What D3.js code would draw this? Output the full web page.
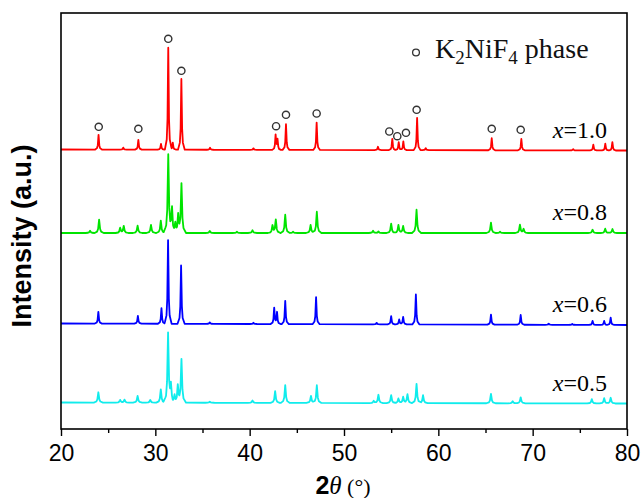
<!DOCTYPE html>
<html>
<head>
<meta charset="utf-8">
<script src="https://cdn.jsdelivr.net/npm/d3@7"></script>
<style>
	body { margin: 0; background: #fff; }
	svg { display: block; }
</style>
</head>
<body>
<svg id="chart" width="643" height="498"></svg>
<script>
// Peak lists: [2theta, height above the pattern's baseline]
const redPeaks = [[23.98, 14.7], [26.6, 2], [28.2, 9.7], [30.6, 5.7], [31.37, 102], [31.85, 7], [32.76, 70.7],
	[35.8, 2], [40.4, 1.5], [42.75, 14.7], [42.95, 10], [43.85, 25.7], [47.1, 27.3], [53.6, 3.3], [55.12, 11.3],
	[55.8, 8], [56.29, 8.7], [57.75, 32.3], [58.66, 2], [65.66, 12], [68.8, 11.3], [74.3, 1.3], [76.43, 5.7],
	[77.7, 6.7], [78.45, 8.3]];
const greenPeaks = [[23.08, 2.3], [24.04, 13.3], [26.27, 5], [26.65, 7], [28.12, 7.3], [29.54, 8], [30.58, 12.3],
	[31.37, 78], [31.77, 24], [32.12, 9], [32.42, 17], [32.77, 49], [35.77, 2], [38.65, 1.3], [40.3, 2.7],
	[42.42, 7.3], [42.77, 13.3], [43.77, 18.3], [44.6, 1.3], [46.46, 8], [47.12, 21.3], [53.08, 2.3], [53.65, 1.5],
	[55.0, 9.3], [55.77, 8], [56.27, 7], [57.69, 23.3], [65.58, 10.3], [66.54, 1.3], [68.65, 8.3], [69.04, 4],
	[76.35, 3.3], [77.69, 4.3], [78.46, 4]];
const bluePeaks = [[23.96, 11.7], [28.15, 7.7], [30.65, 15.7], [31.35, 83.7], [32.73, 58.3], [35.77, 1.5],
	[40.4, 1.2], [42.6, 16], [42.9, 11.7], [43.77, 23.3], [47.04, 27], [53.46, 1.5], [55.0, 8.3], [55.85, 5],
	[56.27, 7.5], [57.62, 30], [65.58, 10], [68.73, 9.7], [71.7, 1], [74.2, 1], [76.35, 4], [77.58, 4], [78.27, 7.3]];
const cyanPeaks = [[23.96, 10.3], [26.27, 2.7], [26.73, 3], [28.12, 6.7], [29.46, 2.7], [30.58, 13.3], [31.35, 69.3],
	[31.65, 16], [32.04, 7], [32.38, 16.7], [32.77, 43.3], [35.77, 1], [40.3, 2.3], [42.7, 11.7], [43.77, 17.7],
	[46.5, 7], [47.12, 17.7], [53.15, 2.3], [53.65, 8.3], [55.0, 8], [55.77, 4.7], [56.27, 6.3], [56.73, 9],
	[57.69, 19.3], [58.38, 8], [65.58, 9.3], [67.88, 2], [68.73, 6], [76.27, 4.3], [77.58, 5.3], [78.27, 5.7]];

// Baseline level of each pattern at 20 and 80 degrees
const redBase = [279.5, 278.5];
const greenBase = [196, 196];
const blueBase = [105.5, 104];
const cyanBase = [26.5, 25.5];

// K2NiF4 markers over the x=1.0 pattern: [2theta, height above its baseline]
const markers = [[24.0, 22.7], [28.2, 20.7], [31.37, 110.7], [32.76, 78.7], [42.8, 23.3], [43.85, 34.7],
	[47.1, 36], [54.8, 18], [55.65, 13.3], [56.57, 16.7], [57.7, 39.7], [65.66, 20.7], [68.73, 19.7]];

const seriesLabels = ["1.0", "0.8", "0.6", "0.5"];
const majorTicks = [20, 30, 40, 50, 60, 70, 80];
const minorTicks = [25, 35, 45, 55, 65, 75];

// Layout
const margin = { left: 61, top: 13, right: 16, bottom: 69 };
const width = 643 - margin.left - margin.right;
const height = 498 - margin.top - margin.bottom;

const series = [
	{ peaks: redPeaks, base: redBase, color: "#ff0000", spread: 1 },
	{ peaks: greenPeaks, base: greenBase, color: "#00e400", spread: 1.35 },
	{ peaks: bluePeaks, base: blueBase, color: "#0000ff", spread: 1.05 },
	{ peaks: cyanPeaks, base: cyanBase, color: "#10ecec", spread: 1.35 }
];

// Shape of one peak, offsets in degrees and fraction of its height
const peakShape = [[-0.36, 0], [-0.16, 0.1], [-0.08, 0.3], [-0.035, 0.7], [0, 1],
	[0.035, 0.7], [0.08, 0.3], [0.16, 0.1], [0.36, 0]];

function shapeAt(dx) {
	if (dx <= peakShape[0][0] || dx >= peakShape[peakShape.length - 1][0]) return 0;
	for (let i = 1; i < peakShape.length; i++) {
		const a = peakShape[i - 1], b = peakShape[i];
		if (dx <= b[0]) return a[1] + (b[1] - a[1]) * (dx - a[0]) / (b[0] - a[0]);
	}
	return 0;
}

// Vertices of a pattern: its peaks put on its baseline
function pattern(s) {
	let xs = [20, 80];
	s.peaks.forEach(p => peakShape.forEach(k => xs.push(p[0] + k[0] * s.spread)));
	xs = xs.filter(v => v >= 20 && v <= 80).sort((a, b) => a - b);
	return xs.map(v => {
		let level = s.base[0] + (s.base[1] - s.base[0]) * (v - 20) / 60;
		s.peaks.forEach(p => { level += p[1] * shapeAt((v - p[0]) / s.spread); });
		return [v, level];
	});
}

const svg = d3.select("#chart");
const g = svg.append("g")
	.attr("transform", "translate(" + margin.left + "," + margin.top + ")");

const x = d3.scaleLinear().domain([20, 80]).range([0, width]);
const y = d3.scaleLinear().domain([0, height]).range([height, 0]);

// Patterns
const line = d3.line().x(d => x(d[0])).y(d => y(d[1]));
series.forEach(s => {
	g.append("path")
		.datum(pattern(s))
		.attr("fill", "none")
		.attr("stroke", s.color)
		.attr("stroke-width", 1.8)
		.attr("stroke-linejoin", "round")
		.attr("d", line);
});

// Phase markers
g.selectAll("circle.marker")
	.data(markers)
	.join("circle")
		.attr("class", "marker")
		.attr("cx", d => x(d[0]))
		.attr("cy", d => y(redBase[0] + d[1]))
		.attr("r", 3.6)
		.attr("fill", "#fff")
		.attr("stroke", "#333")
		.attr("stroke-width", 1.4);

// Series labels
g.selectAll("text.slabel")
	.data(seriesLabels)
	.join("text")
		.attr("class", "slabel")
		.attr("x", 546)
		.attr("y", (d, i) => y(series[i].base[1]) - 13)
		.attr("text-anchor", "end")
		.style("font-family", "'Liberation Serif', 'Times New Roman', serif")
		.style("font-size", "24px")
		.each(function(d) {
			const t = d3.select(this);
			t.append("tspan").style("font-style", "italic").text("x");
			t.append("tspan").text("=" + d);
		});

// Legend
g.append("circle")
	.attr("cx", 416 - margin.left)
	.attr("cy", 52.5 - margin.top)
	.attr("r", 3.4)
	.attr("fill", "#fff")
	.attr("stroke", "#333")
	.attr("stroke-width", 1.3);

const legend = g.append("text")
	.attr("x", 435 - margin.left)
	.attr("y", 58 - margin.top)
	.style("font-family", "'Liberation Serif', 'Times New Roman', serif")
	.style("font-size", "28px")
	.style("fill", "#111");
legend.append("tspan").text("K");
legend.append("tspan").attr("dy", 6).style("font-size", "19px").text("2");
legend.append("tspan").attr("dy", -6).text("NiF");
legend.append("tspan").attr("dy", 6).style("font-size", "19px").text("4");
legend.append("tspan").attr("dy", -6).text(" phase");

// Frame
g.append("rect")
	.attr("width", width)
	.attr("height", height)
	.attr("fill", "none")
	.attr("stroke", "#000")
	.attr("stroke-width", 1.6);

// x-axis
const xAxis = g.append("g")
	.attr("transform", "translate(0," + height + ")")
	.call(d3.axisBottom(x).tickValues(majorTicks).tickSize(7).tickPadding(9).tickFormat(d3.format("d")));
xAxis.select(".domain").remove();
xAxis.selectAll("line").attr("stroke", "#000").attr("stroke-width", 1.4);
xAxis.selectAll("text")
	.style("font-family", "'Liberation Sans', Arial, sans-serif")
	.style("font-size", "23px")
	.style("fill", "#000");

const xMinor = g.append("g")
	.attr("transform", "translate(0," + height + ")")
	.call(d3.axisBottom(x).tickValues(minorTicks).tickSize(4).tickFormat(""));
xMinor.select(".domain").remove();
xMinor.selectAll("line").attr("stroke", "#000").attr("stroke-width", 1.4);

// Axis titles
const xTitle = svg.append("text")
	.attr("x", 343)
	.attr("y", 494)
	.attr("text-anchor", "middle")
	.style("fill", "#000");
xTitle.append("tspan")
	.style("font-family", "'Liberation Sans', Arial, sans-serif")
	.style("font-weight", "bold")
	.style("font-size", "25px")
	.text("2");
xTitle.append("tspan")
	.style("font-family", "'Liberation Serif', 'Times New Roman', serif")
	.style("font-style", "italic")
	.style("font-size", "25px")
	.text("θ");
xTitle.append("tspan")
	.style("font-family", "'Liberation Serif', 'Times New Roman', serif")
	.style("font-size", "22px")
	.text(" (°)");

svg.append("text")
	.attr("transform", "translate(31,236) rotate(-90)")
	.attr("text-anchor", "middle")
	.style("font-family", "'Liberation Sans', Arial, sans-serif")
	.style("font-weight", "bold")
	.style("font-size", "27px")
	.style("fill", "#000")
	.text("Intensity (a.u.)");
</script>
</body>
</html>
